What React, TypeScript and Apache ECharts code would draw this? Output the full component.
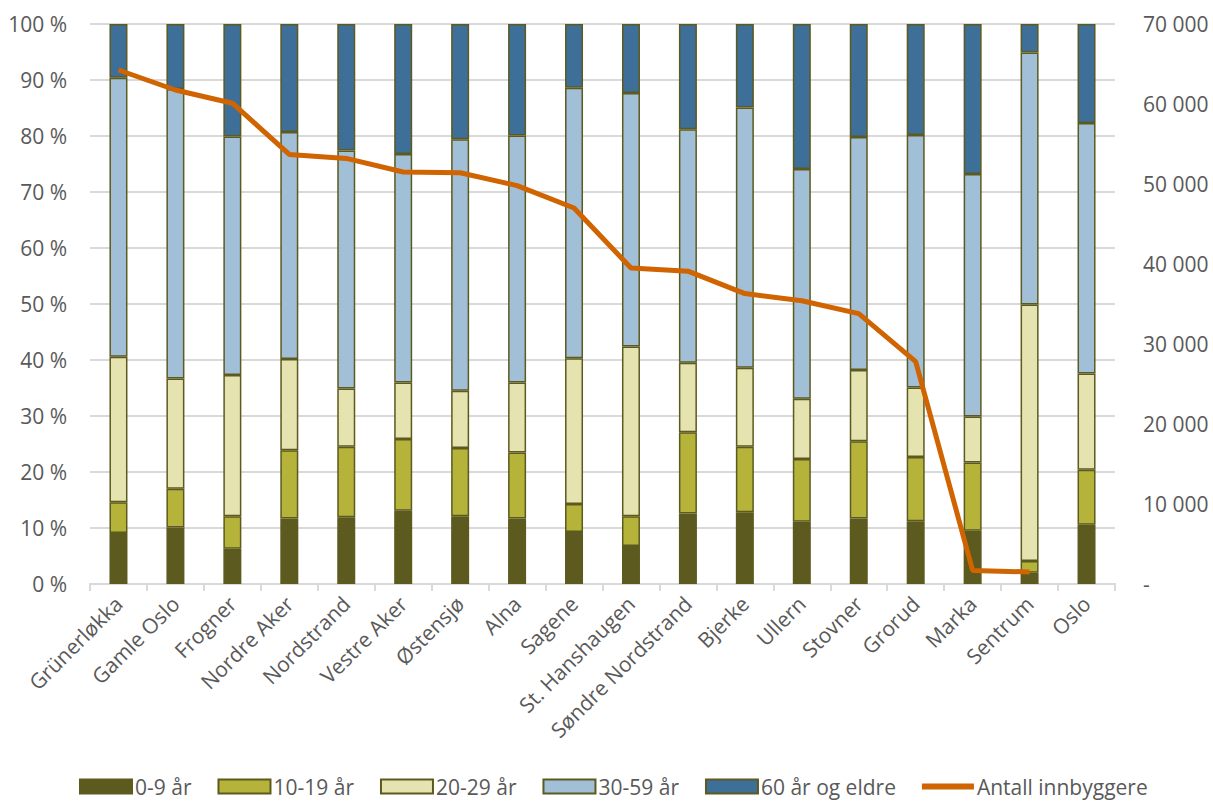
import React, { useEffect, useRef } from "react";
import * as echarts from "echarts";

const categories = [
  "Grünerløkka", "Gamle Oslo", "Frogner", "Nordre Aker", "Nordstrand", "Vestre Aker",
  "Østensjø", "Alna", "Sagene", "St. Hanshaugen", "Søndre Nordstrand", "Bjerke",
  "Ullern", "Stovner", "Grorud", "Marka", "Sentrum", "Oslo",
];

const age0to9 = [9.1, 10.1, 6.3, 11.7, 11.9, 13.1, 12.1, 11.7, 9.3, 6.8, 12.6, 12.8, 11.1, 11.7, 11.2, 9.5, 2.0, 10.6];
const age10to19 = [5.5, 6.9, 5.8, 12.2, 12.6, 12.8, 12.2, 11.8, 5.0, 5.3, 14.5, 11.7, 11.2, 13.8, 11.5, 12.2, 2.1, 9.8];
const age20to29 = [26.0, 19.7, 25.2, 16.3, 10.4, 10.1, 10.2, 12.5, 26.0, 30.3, 12.4, 14.1, 10.8, 12.7, 12.4, 8.2, 45.8, 17.2];
const age30to59 = [49.8, 51.7, 42.6, 40.5, 42.5, 40.8, 44.9, 44.1, 48.3, 45.3, 41.7, 46.5, 41.0, 41.6, 45.1, 43.3, 45.0, 44.7];
const age60plus = [9.6, 11.6, 20.1, 19.3, 22.6, 23.2, 20.6, 19.9, 11.4, 12.3, 18.8, 14.9, 25.9, 20.2, 19.8, 26.8, 5.1, 17.7];
const population = [64250, 61750, 60100, 53700, 53200, 51500, 51400, 49800, 47000, 39500, 39100, 36300, 35400, 33800, 27800, 1700, 1500, null];

const seriesNames = ["0-9 år", "10-19 år", "20-29 år", "30-59 år", "60 år og eldre", "Antall innbyggere"];
const barColors = ["#5C5A1E", "#B5B33A", "#E5E3AF", "#A2BFD8", "#3D6F98"];
const lineColor = "#D06400";

const FONT = "'Open Sans', 'Noto Sans', sans-serif";
const TEXT = "#595959";

export default function App() {
  const ref = useRef<HTMLDivElement>(null);
  useEffect(() => {
    if (!ref.current) return;
    const chart = echarts.init(ref.current, undefined, { renderer: "svg" });
    const barData = [age0to9, age10to19, age20to29, age30to59, age60plus];
    const barSeries = barData.map((d, i) => ({
      name: seriesNames[i],
      type: "bar",
      stack: "age",
      barWidth: 18,
      yAxisIndex: 0,
      data: d,
      itemStyle: { color: barColors[i], borderColor: "#5C5A1E", borderWidth: 1.5 },
    }));
    const legendData = seriesNames.map((n, i) =>
      i < 5
        ? { name: n, icon: "rect" }
        : { name: n, icon: "path://M0,0H60V7H0Z", itemStyle: { color: lineColor } }
    );
    chart.setOption({
      animation: false,
      textStyle: { fontFamily: FONT },
      grid: { left: 90, right: 98, top: 24, bottom: 218, containLabel: false },
      legend: {
        bottom: 0,
        left: 74,
        padding: [0, 5, 5, 5],
        itemWidth: 52,
        itemHeight: 14,
        itemGap: 26,
        textStyle: { fontSize: 21, color: TEXT, fontFamily: FONT, padding: [0, 0, 0, -2] },
        data: legendData,
      },
      xAxis: {
        type: "category",
        data: categories,
        boundaryGap: true,
        axisLine: { lineStyle: { color: "#D9D9D9", width: 2 } },
        axisTick: { show: true, length: 7, lineStyle: { color: "#D9D9D9", width: 2 } },
        axisLabel: { rotate: 45, fontSize: 21, color: TEXT, fontFamily: FONT, margin: 16, interval: 0 },
      },
      yAxis: [
        {
          type: "value",
          min: 0,
          max: 100,
          interval: 10,
          axisLine: { show: false },
          axisTick: { show: false },
          splitLine: { lineStyle: { color: "#D9D9D9", width: 2 } },
          axisLabel: { formatter: "{value} %", fontSize: 21, color: TEXT, fontFamily: FONT, margin: 23 },
        },
        {
          type: "value",
          min: 0,
          max: 70000,
          interval: 10000,
          axisLine: { show: false },
          axisTick: { show: false },
          splitLine: { show: false },
          axisLabel: {
            fontSize: 21,
            color: TEXT,
            fontFamily: FONT,
            margin: 28,
            formatter: (v: number) => (v === 0 ? "-" : String(v).replace(/\B(?=(\d{3})+(?!\d))/g, " ")),
          },
        },
      ],
      series: [
        ...barSeries,
        {
          name: seriesNames[5],
          type: "line",
          yAxisIndex: 1,
          data: population,
          symbol: "none",
          connectNulls: false,
          z: 5,
          itemStyle: { color: lineColor },
          lineStyle: { color: lineColor, width: 5 },
        },
      ],
    });
    return () => chart.dispose();
  }, []);
  return (
    <div
      ref={ref}
      style={{ position: "fixed", left: 0, top: 0, width: 1213, height: 802, background: "#fff" }}
    />
  );
}
